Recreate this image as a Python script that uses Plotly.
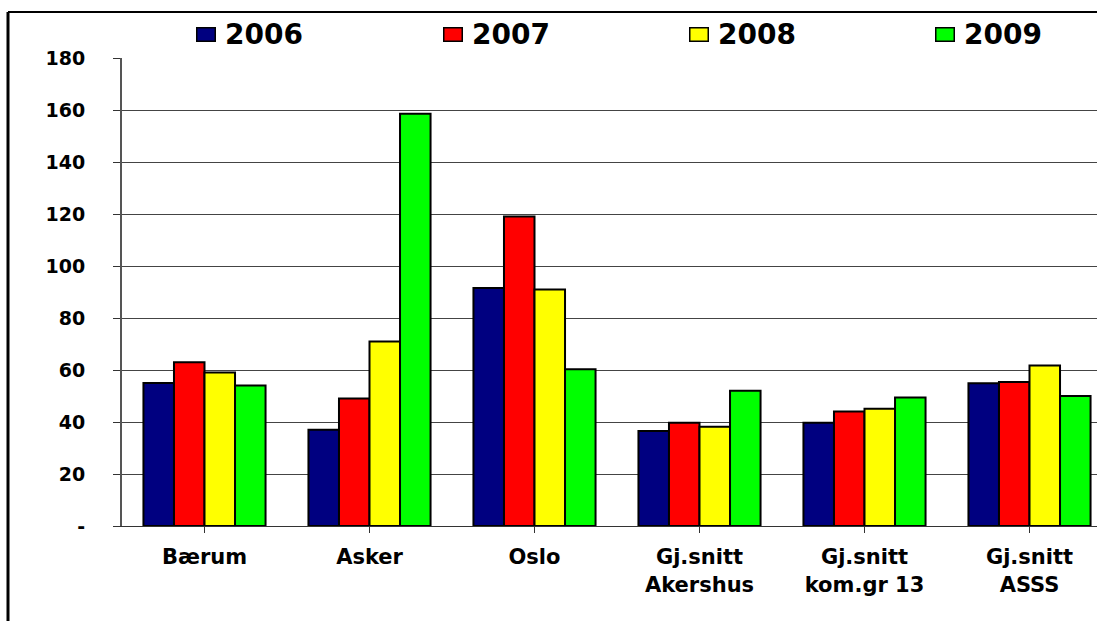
import plotly.graph_objects as go

categories = ["Bærum", "Asker", "Oslo", "Gj.snitt<br>Akershus", "Gj.snitt<br>kom.gr 13", "Gj.snitt<br>ASSS"]
years = ["2006", "2007", "2008", "2009"]
v2006 = [55, 37, 91.5, 36.5, 39.7, 54.9]
v2007 = [63, 49, 119, 39.7, 44, 55.4]
v2008 = [59, 71, 91, 38.2, 45.1, 61.7]
v2009 = [54, 158.6, 60.3, 52, 49.4, 50]
series = [v2006, v2007, v2008, v2009]
colors = ["#000080", "#FF0000", "#FFFF00", "#00FF00"]
ytickvals = [0, 20, 40, 60, 80, 100, 120, 140, 160, 180]
yticktext = ["-", "20", "40", "60", "80", "100", "120", "140", "160", "180"]

W, H = 1097, 621
L, R, T, B = 122, 0, 58, 95
pw, ph = W - L - R, H - T - B

FONT = "DejaVu Sans, Liberation Sans, Arial, sans-serif"


def px_x(p):
    return (p - L) / pw


def px_y(p):
    return (H - B - p) / ph


fig = go.Figure()
for name, vals, c in zip(years, series, colors):
    fig.add_trace(go.Bar(
        x=list(range(len(categories))), y=vals, name=name, showlegend=False,
        marker=dict(color=c, line=dict(color="black", width=2)),
    ))

# manual legend (swatch + label) laid out across the top
legend_left = [196, 443, 689, 935]
annotations = []
for name, c, lx in zip(years, colors, legend_left):
    annotations.append(dict(
        xref="paper", yref="paper", x=px_x(lx + 9.5), y=px_y(35),
        xanchor="center", yanchor="middle", showarrow=False,
        text=" ", font=dict(size=1), width=17, height=12,
        bgcolor=c, bordercolor="black", borderwidth=1.5, borderpad=0,
    ))
    annotations.append(dict(
        xref="paper", yref="paper", x=px_x(lx + 27), y=px_y(34.5),
        xanchor="left", yanchor="middle", showarrow=False,
        text="<b>%s</b>" % name,
        font=dict(family=FONT, size=28, color="black"),
    ))

cat_w = 165.0
fig.update_layout(
    width=W, height=H,
    margin=dict(l=L, r=R, t=T, b=B, pad=0, autoexpand=False),
    paper_bgcolor="white", plot_bgcolor="white",
    barmode="group", bargap=0.26, bargroupgap=0,
    font=dict(family=FONT, color="black"),
    showlegend=False,
    annotations=annotations,
    xaxis=dict(
        range=[-0.5, -0.5 + pw / cat_w],
        tickmode="array", tickvals=list(range(len(categories))), ticktext=categories,
        tickson="boundaries", ticks="outside", ticklen=6, tickcolor="#333", tickwidth=1,
        showline=True, linecolor="#333", linewidth=1,
        showgrid=False, zeroline=False,
        tickfont=dict(family=FONT, size=21, color="black", weight="bold"),
        ticklabelstandoff=6,
    ),
    yaxis=dict(
        range=[0, 180], tickmode="array", tickvals=ytickvals, ticktext=yticktext,
        ticks="outside", ticklen=7, tickcolor="#333", tickwidth=1,
        showline=True, linecolor="#555", linewidth=2,
        showgrid=True, gridcolor="#444", gridwidth=1, zeroline=False,
        tickfont=dict(family=FONT, size=19, color="black", weight="bold"),
        ticklabelstandoff=24,
    ),
    shapes=[
        dict(type="line", xref="paper", yref="paper",
             x0=px_x(8), x1=1.0, y0=px_y(12), y1=px_y(12),
             line=dict(color="black", width=2)),
        dict(type="line", xref="paper", yref="paper",
             x0=px_x(8), x1=px_x(8), y0=px_y(12), y1=-0.3,
             line=dict(color="black", width=3)),
    ],
)

fig.write_html("out.html", config={"displayModeBar": False})
